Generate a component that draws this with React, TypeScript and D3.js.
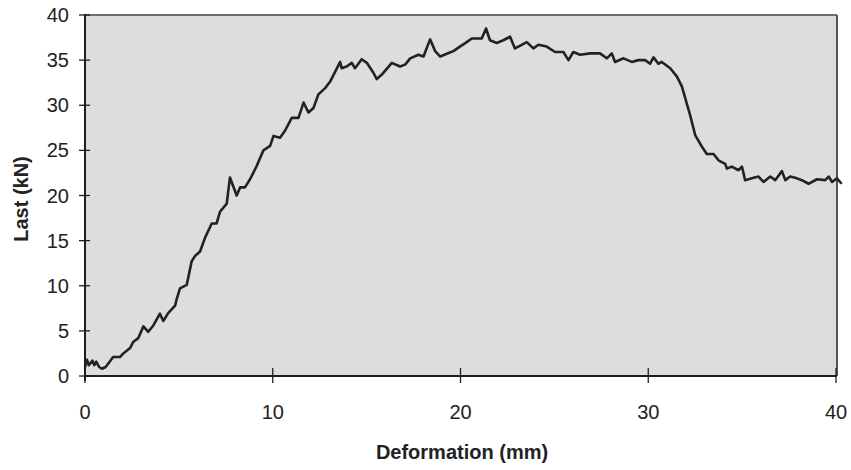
import React from "react";
import * as d3 from "d3";

// deformation (mm) and load (kN)
const deformation = [
  0, 0.1, 0.2, 0.4, 0.5, 0.6, 0.75, 0.9, 1.1, 1.5, 1.86, 2.04, 2.4, 2.58, 2.84, 3.11, 3.37, 3.64, 3.99, 4.17,
  4.44, 4.8, 4.88, 5.06, 5.42, 5.68, 5.86, 6.13, 6.39, 6.75, 7.01, 7.19, 7.55, 7.72, 8.08, 8.26, 8.52, 8.79,
  9.15, 9.5, 9.86, 10.04, 10.39, 10.66, 11.01, 11.37, 11.64, 11.9, 12.17, 12.43, 12.79, 13.05, 13.32, 13.59,
  13.67, 13.94, 14.21, 14.38, 14.74, 15.01, 15.36, 15.54, 15.81, 16.34, 16.78, 17.05, 17.32, 17.76, 18.03,
  18.38, 18.65, 18.92, 19.27, 19.62, 19.97, 20.33, 20.6, 20.87, 21.13, 21.36, 21.57, 21.93, 22.28, 22.64,
  22.9, 23.26, 23.53, 23.88, 24.15, 24.59, 25.04, 25.48, 25.75, 26.01, 26.37, 26.9, 27.43, 27.79, 28.06,
  28.23, 28.68, 29.12, 29.48, 29.83, 30.1, 30.28, 30.54, 30.72, 31.17, 31.52, 31.79, 32.05, 32.23, 32.5,
  32.86, 33.12, 33.48, 33.74, 34.1, 34.19, 34.45, 34.81, 34.99, 35.16, 35.52, 35.87, 36.14, 36.5, 36.76,
  37.12, 37.3, 37.56, 37.92, 38.18, 38.54, 38.98, 39.43, 39.61, 39.79, 40.05, 40.3,
];
const load = [
  1.0, 1.8, 1.2, 1.7, 1.2, 1.6, 1.0, 0.8, 1.0, 2.1, 2.1, 2.5, 3.1, 3.8, 4.2, 5.5, 4.9, 5.6, 6.9, 6.1,
  7.0, 7.8, 8.5, 9.7, 10.1, 12.7, 13.3, 13.8, 15.3, 16.9, 16.9, 18.2, 19.1, 22.0, 20.0, 20.9, 20.9, 21.8,
  23.3, 25.0, 25.5, 26.6, 26.4, 27.2, 28.6, 28.6, 30.3, 29.2, 29.7, 31.2, 31.9, 32.6, 33.7, 34.8,
  34.1, 34.3, 34.7, 34.1, 35.1, 34.7, 33.6, 32.9, 33.4, 34.7, 34.3, 34.5, 35.2, 35.6, 35.4,
  37.3, 36.0, 35.4, 35.7, 36.0, 36.5, 37.0, 37.4, 37.4, 37.4, 38.5, 37.2, 36.9, 37.2, 37.6,
  36.3, 36.7, 37.0, 36.3, 36.7, 36.5, 35.9, 35.9, 35.0, 35.9, 35.6, 35.75, 35.75, 35.2, 35.75,
  34.8, 35.2, 34.8, 35.0, 35.0, 34.6, 35.3, 34.6, 34.8, 34.1, 33.2, 32.1, 30.2, 28.9, 26.7,
  25.4, 24.6, 24.6, 23.9, 23.5, 23.0, 23.2, 22.8, 23.2, 21.7, 21.9, 22.1, 21.5, 22.1, 21.7,
  22.7, 21.7, 22.1, 21.9, 21.7, 21.3, 21.8, 21.7, 22.1, 21.5, 21.9, 21.3,
];
const xTicks = [0, 10, 20, 30, 40];
const yTicks = [0, 5, 10, 15, 20, 25, 30, 35, 40];

const W = 851;
const H = 470;
const left = 85;
const right = 837;
const top = 15;
const bottom = 376;
const font = "'Liberation Sans', Arial, Helvetica, sans-serif";

export default function App() {
  const x = d3.scaleLinear().domain([0, 40]).range([left, right - 1]);
  const y = d3.scaleLinear().domain([0, 40]).range([bottom, top]);
  const pts: [number, number][] = deformation.map((d, i) => [d, load[i]]);
  const line = d3
    .line<[number, number]>()
    .x((d) => x(d[0]))
    .y((d) => y(d[1]));

  return (
    <svg
      width={W}
      height={H}
      style={{ position: "absolute", left: 0, top: 0, background: "#fff" }}
    >
      <rect x={left} y={top} width={right - left} height={bottom - top} fill="#dcdddc" />
      {/* frame: grey top/right, black axes left/bottom */}
      <line x1={left} x2={right} y1={top} y2={top} stroke="#6e6e6e" strokeWidth={2} />
      <line x1={right} x2={right} y1={top} y2={bottom} stroke="#555" strokeWidth={2} />
      <line x1={left} x2={left} y1={top - 1} y2={bottom + 5} stroke="#1e1e1e" strokeWidth={2} />
      <line x1={left} x2={right} y1={bottom} y2={bottom} stroke="#1e1e1e" strokeWidth={2} />

      {yTicks.map((t) => (
        <g key={"y" + t}>
          <line x1={left - 6} x2={left + 5} y1={y(t)} y2={y(t)} stroke="#1e1e1e" strokeWidth={1.3} />
          <text
            x={69}
            y={y(t) + 7}
            textAnchor="end"
            fontFamily={font}
            fontSize={20}
            fill="#222"
          >
            {t}
          </text>
        </g>
      ))}
      {xTicks.map((t) => (
        <g key={"x" + t}>
          <line x1={x(t)} x2={x(t)} y1={bottom - 8} y2={bottom + 7} stroke="#1e1e1e" strokeWidth={1.3} />
          <text
            x={x(t)}
            y={419}
            textAnchor="middle"
            fontFamily={font}
            fontSize={20}
            fill="#222"
          >
            {t}
          </text>
        </g>
      ))}

      <path d={line(pts) ?? ""} fill="none" stroke="#1f2321" strokeWidth={2.6} strokeLinejoin="round" />

      <text
        x={462}
        y={459}
        textAnchor="middle"
        fontFamily={font}
        fontSize={20}
        fontWeight="bold"
        fill="#222"
      >
        Deformation (mm)
      </text>
      <text
        transform="translate(28,199) rotate(-90)"
        textAnchor="middle"
        fontFamily={font}
        fontSize={20}
        fontWeight="bold"
        fill="#222"
      >
        Last (kN)
      </text>
    </svg>
  );
}
